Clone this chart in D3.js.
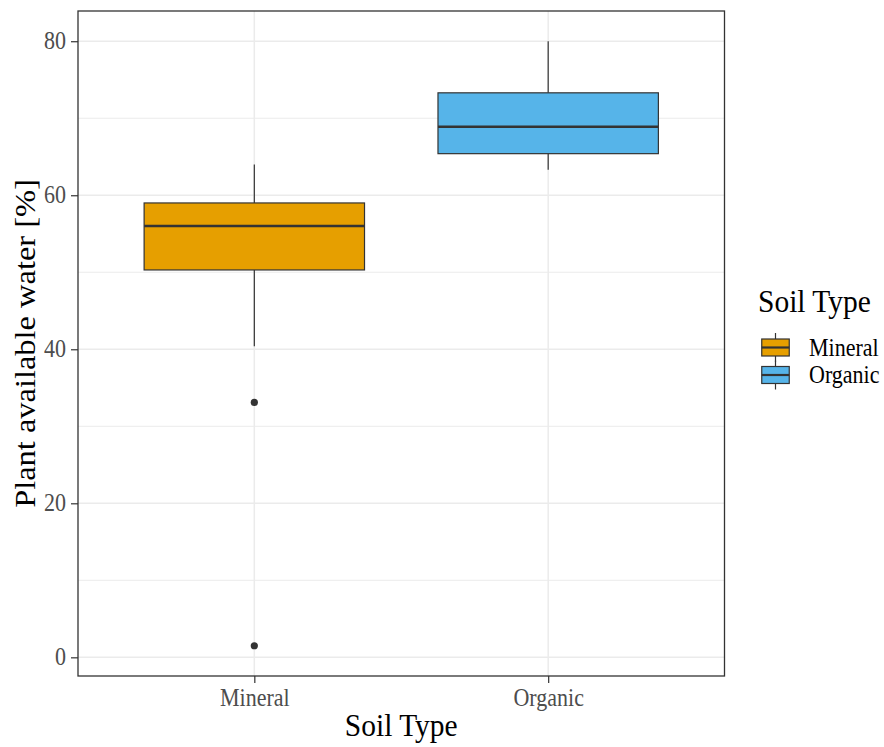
<!DOCTYPE html>
<html>
<head>
<meta charset="utf-8">
<script src="https://cdn.jsdelivr.net/npm/d3@7"></script>
<style>
  html, body { margin: 0; padding: 0; background: #fff; }
  svg text { font-family: "Liberation Serif", "Times New Roman", serif; }
</style>
</head>
<body>
<div id="chart"></div>
<script>
////////////////////
//  chart values  //
////////////////////
const categories = ["Mineral", "Organic"];
const whiskerLow = [40.4, 63.3];
const lowerQuartile = [50.3, 65.4];
const medians = [56.0, 68.9];
const upperQuartile = [59.0, 73.3];
const whiskerHigh = [64.0, 80.0];
const outliers = [[33.1, 1.5], []];
const fillColors = ["#E69F00", "#56B4E9"];
const yTicks = [0, 20, 40, 60, 80];
const yMinorTicks = [10, 30, 50, 70];

const WIDTH = 884;
const HEIGHT = 747;
const PANEL = { LEFT: 78, RIGHT: 724.5, TOP: 11, BOTTOM: 676 };
const STRETCH = 1.1; // text in the picture is a little taller than wide
const DARK = "#333333";

const svg = d3.select("#chart").append("svg")
    .attr("width", WIDTH)
    .attr("height", HEIGHT);

svg.append("rect").attr("width", WIDTH).attr("height", HEIGHT).attr("fill", "#fff");

// scales (ggplot-like 5% expansion on y, 0.6 on discrete x)
const allValues = whiskerLow.concat(whiskerHigh, outliers.flat());
const lo = d3.min(allValues), hi = d3.max(allValues);
const pad = (hi - lo) * 0.05;
const y = d3.scaleLinear()
    .domain([lo - pad, hi + pad])
    .range([PANEL.BOTTOM, PANEL.TOP]);

const x = d3.scalePoint()
    .domain(categories)
    .range([PANEL.LEFT, PANEL.RIGHT])
    .padding(0.6);
const boxWidth = x.step() * 0.75;

/////////////
//  grid   //
/////////////
const grid = svg.append("g");
grid.selectAll(".minor").data(yMinorTicks).join("line")
    .attr("x1", PANEL.LEFT).attr("x2", PANEL.RIGHT)
    .attr("y1", d => y(d)).attr("y2", d => y(d))
    .attr("stroke", "#EBEBEB").attr("stroke-width", 1);
grid.selectAll(".major").data(yTicks).join("line")
    .attr("x1", PANEL.LEFT).attr("x2", PANEL.RIGHT)
    .attr("y1", d => y(d)).attr("y2", d => y(d))
    .attr("stroke", "#EBEBEB").attr("stroke-width", 1.5);
grid.selectAll(".vmajor").data(categories).join("line")
    .attr("x1", d => x(d)).attr("x2", d => x(d))
    .attr("y1", PANEL.TOP).attr("y2", PANEL.BOTTOM)
    .attr("stroke", "#EBEBEB").attr("stroke-width", 1.5);

//////////////////
//  box plots   //
//////////////////
const boxes = svg.append("g").selectAll("g").data(categories).join("g");

boxes.append("line")
    .attr("x1", d => x(d)).attr("x2", d => x(d))
    .attr("y1", (d, i) => y(whiskerHigh[i])).attr("y2", (d, i) => y(upperQuartile[i]))
    .attr("stroke", DARK).attr("stroke-width", 1.2);
boxes.append("line")
    .attr("x1", d => x(d)).attr("x2", d => x(d))
    .attr("y1", (d, i) => y(lowerQuartile[i])).attr("y2", (d, i) => y(whiskerLow[i]))
    .attr("stroke", DARK).attr("stroke-width", 1.2);
boxes.append("rect")
    .attr("x", d => x(d) - boxWidth / 2)
    .attr("width", boxWidth)
    .attr("y", (d, i) => y(upperQuartile[i]))
    .attr("height", (d, i) => y(lowerQuartile[i]) - y(upperQuartile[i]))
    .attr("fill", (d, i) => fillColors[i])
    .attr("stroke", DARK).attr("stroke-width", 1.2);
boxes.append("line")
    .attr("x1", d => x(d) - boxWidth / 2).attr("x2", d => x(d) + boxWidth / 2)
    .attr("y1", (d, i) => y(medians[i])).attr("y2", (d, i) => y(medians[i]))
    .attr("stroke", DARK).attr("stroke-width", 2.6);
boxes.selectAll("circle").data((d, i) => outliers[i].map(v => ({ cat: d, v }))).join("circle")
    .attr("cx", p => x(p.cat))
    .attr("cy", p => y(p.v))
    .attr("r", 3.6)
    .attr("fill", DARK);

// panel border
svg.append("rect")
    .attr("x", PANEL.LEFT).attr("y", PANEL.TOP)
    .attr("width", PANEL.RIGHT - PANEL.LEFT).attr("height", PANEL.BOTTOM - PANEL.TOP)
    .attr("fill", "none").attr("stroke", DARK).attr("stroke-width", 1.3);

/////////////
//  axes   //
/////////////
const yAxis = svg.append("g")
    .attr("transform", `translate(${PANEL.LEFT},0)`)
    .call(d3.axisLeft(y).tickValues(yTicks).tickSize(7).tickPadding(5));
yAxis.select(".domain").remove();
yAxis.selectAll("line").attr("stroke", DARK).attr("stroke-width", 1.2);
yAxis.selectAll("text")
    .attr("fill", "#4D4D4D")
    .style("font-size", "22px")
    .attr("dy", null)
    .attr("y", 0)
    .attr("transform", `translate(0,${7.5}) scale(1,${STRETCH})`);

const xAxis = svg.append("g")
    .attr("transform", `translate(0,${PANEL.BOTTOM})`)
    .call(d3.axisBottom(x).tickSize(7).tickPadding(0));
xAxis.select(".domain").remove();
xAxis.selectAll("line").attr("stroke", DARK).attr("stroke-width", 1.2);
xAxis.selectAll("text")
    .attr("fill", "#4D4D4D")
    .style("font-size", "22px")
    .attr("dy", null)
    .attr("y", 0)
    .attr("transform", `translate(0,${29.5}) scale(1,${STRETCH})`);

// axis titles
svg.append("text")
    .attr("text-anchor", "middle")
    .attr("transform", `translate(${(PANEL.LEFT + PANEL.RIGHT) / 2},${736}) scale(1,${STRETCH})`)
    .style("font-size", "29.5px")
    .attr("fill", "#000")
    .text("Soil Type");

svg.append("text")
    .attr("text-anchor", "middle")
    .attr("transform", `translate(${34.5},${(PANEL.TOP + PANEL.BOTTOM) / 2}) rotate(-90) scale(${STRETCH},1)`)
    .style("font-size", "29.5px")
    .attr("fill", "#000")
    .text("Plant available water [%]");

//////////////
//  legend  //
//////////////
const legend = svg.append("g");
legend.append("text")
    .attr("transform", `translate(758,${311.5}) scale(1,${STRETCH})`)
    .style("font-size", "29.5px")
    .attr("fill", "#000")
    .text("Soil Type");

const keyX = 775.5, keyW = 27.5, keyH = 17, keyStep = 27.5, keyTop = 347.5;
const keys = legend.selectAll(".key").data(categories).join("g")
    .attr("transform", (d, i) => `translate(${keyX},${keyTop + i * keyStep})`);
keys.append("line")
    .attr("x1", 0).attr("x2", 0).attr("y1", -14.5).attr("y2", 14.5)
    .attr("stroke", DARK).attr("stroke-width", 1.2);
keys.append("rect")
    .attr("x", -keyW / 2).attr("y", -keyH / 2)
    .attr("width", keyW).attr("height", keyH)
    .attr("fill", (d, i) => fillColors[i])
    .attr("stroke", DARK).attr("stroke-width", 1.2);
keys.append("line")
    .attr("x1", -keyW / 2).attr("x2", keyW / 2).attr("y1", 0).attr("y2", 0)
    .attr("stroke", DARK).attr("stroke-width", 2.2);
keys.append("text")
    .attr("transform", `translate(33.5,${8}) scale(1,${STRETCH})`)
    .style("font-size", "22px")
    .attr("fill", "#000")
    .text(d => d);
</script>
</body>
</html>
